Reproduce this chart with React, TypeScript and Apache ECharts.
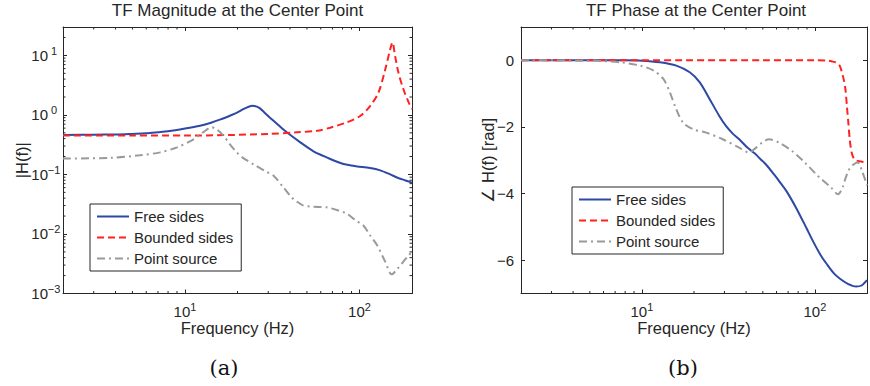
import React, { useEffect, useRef } from 'react';
import * as echarts from 'echarts';

// Axis ranges
const freqMin = 2;
const freqMax = 200;
const magMin = 1e-3;
const magMax = 30;
const phaseMin = -7;
const phaseMax = 1;

const seriesNames = ['Free sides', 'Bounded sides', 'Point source'];

// |H(f)| — free sides
const freeMagFreq = [2, 3, 4, 5, 6, 7, 8, 10, 12.2, 14.1, 16, 18.1, 20, 21.6, 23, 24.4, 25.8, 26.9, 28.5, 30.7, 34, 38.3, 45, 54.5, 62, 68, 75, 81, 90, 97, 115, 131.5, 150, 164, 182, 200];
const freeMagVal = [0.46, 0.465, 0.47, 0.48, 0.49, 0.51, 0.53, 0.59, 0.66, 0.74, 0.84, 0.97, 1.1, 1.25, 1.36, 1.42, 1.38, 1.29, 1.1, 0.9, 0.69, 0.51, 0.36, 0.245, 0.205, 0.182, 0.162, 0.15, 0.141, 0.136, 0.128, 0.117, 0.1, 0.089, 0.08, 0.073];

// |H(f)| — bounded sides
const boundedMagFreq = [2, 5, 10, 18, 30, 43.7, 56.9, 67.9, 84.6, 101, 115, 128.5, 140.5, 150, 154.5, 160, 167, 178.6, 191.4, 200];
const boundedMagVal = [0.45, 0.45, 0.45, 0.46, 0.48, 0.51, 0.54, 0.61, 0.75, 0.96, 1.41, 2.38, 5.8, 12.7, 16.5, 9.8, 5.2, 2.7, 1.62, 1.25];

// |H(f)| — point source
const pointMagFreq = [2, 3.7, 5.5, 7.2, 9, 11.2, 12.7, 14.2, 15.2, 16.6, 18.1, 19.8, 21.5, 24.7, 29.4, 32.1, 36.6, 40.9, 43.8, 47.7, 52, 58, 65, 75, 84.6, 95, 105, 115, 126, 140, 153, 165, 175, 188, 200];
const pointMagVal = [0.185, 0.19, 0.21, 0.235, 0.285, 0.39, 0.51, 0.62, 0.57, 0.45, 0.32, 0.235, 0.19, 0.148, 0.11, 0.096, 0.061, 0.041, 0.035, 0.03, 0.029, 0.0285, 0.028, 0.025, 0.022, 0.017, 0.014, 0.0095, 0.0065, 0.0035, 0.0021, 0.0026, 0.0032, 0.0041, 0.005];

// Phase [rad] — free sides
const freePhFreq = [2, 5, 8, 10, 12.7, 15.8, 18.9, 21.6, 24.6, 28, 30.6, 33.5, 36.5, 40.7, 45, 48.5, 52, 57.9, 63, 68.9, 78.6, 89.6, 97.9, 108, 116.5, 128, 139, 155, 173, 186, 200];
const freePhVal = [0, 0, 0, -0.01, -0.06, -0.16, -0.36, -0.66, -1.16, -1.67, -1.97, -2.2, -2.37, -2.62, -2.8, -2.97, -3.12, -3.42, -3.67, -3.95, -4.47, -5.05, -5.45, -5.85, -6.1, -6.38, -6.55, -6.71, -6.79, -6.76, -6.6];

// Phase [rad] — bounded sides
const boundedPhFreq = [2, 50, 100, 120, 127, 134, 139, 145, 150, 153, 156, 159, 163, 169, 180, 200];
const boundedPhVal = [0, 0, 0, -0.01, -0.04, -0.08, -0.16, -0.46, -0.86, -1.37, -1.87, -2.37, -2.77, -2.97, -3.03, -3.06];

// Phase [rad] — point source
const pointPhFreq = [2, 5, 7.5, 9.8, 11.7, 13.3, 14.5, 15.8, 17.3, 19.8, 23.5, 29.3, 36.5, 41.6, 45, 49.5, 54.3, 62, 73.6, 87.5, 104, 124, 136, 145, 150, 158, 168, 177, 188, 200];
const pointPhVal = [0, -0.01, -0.06, -0.16, -0.31, -0.56, -0.96, -1.47, -1.87, -2.07, -2.17, -2.37, -2.62, -2.77, -2.65, -2.47, -2.37, -2.47, -2.72, -3.07, -3.47, -3.82, -4.02, -3.8, -3.55, -3.27, -3.12, -3.07, -3.35, -3.75];

const FONT = "'Liberation Sans', Arial, Helvetica, sans-serif";
const SERIF = "'DejaVu Serif', 'Liberation Serif', serif";
const INK = '#262626';
const BLUE = '#2D48A5';
const RED = '#FF2222';
const GRAY = '#9A9A9A';

const pairs = (xs: number[], ys: number[]) => xs.map((x, i) => [x, ys[i]]);

// Positions 2..9 x 10^k strictly inside (min, max)
function logMinorTicks(min: number, max: number): number[] {
  const out: number[] = [];
  for (let e = Math.floor(Math.log10(min)); e <= Math.ceil(Math.log10(max)); e++) {
    for (let m = 2; m <= 9; m++) {
      const v = m * Math.pow(10, e);
      if (v > min * 1.0001 && v < max * 0.9999) out.push(v);
    }
  }
  return out;
}

const powLabel = (v: number) => {
  const e = Math.round(Math.log10(v));
  if (Math.abs(v / Math.pow(10, e) - 1) > 1e-6) return '';
  const s = e < 0 ? '\u2212' + -e : String(e);
  return `{b|10}{s|${s}}`;
};

const baseRich = { fontSize: 15, fontFamily: FONT, color: INK, lineHeight: 20 };
const supRich = { fontSize: 11, fontFamily: FONT, color: INK, lineHeight: 11, verticalAlign: 'top' };
// x labels: "10^k" centred under the tick
const powRichX = { b: baseRich, s: supRich };
// y labels: exponent box has a fixed width so every "10" lines up
const powRichY = { b: baseRich, s: { ...supRich, width: 12, align: 'left' } };

const MAJOR = 4;
const MINOR = 2.5;

function minorTicks(
  xAxisIndex: number,
  yAxisIndex: number,
  values: number[],
  dir: 'x' | 'y',
  span: [number, number],
) {
  return {
    type: 'custom',
    xAxisIndex,
    yAxisIndex,
    silent: true,
    clip: false,
    z: 3,
    data: values.map((v) => (dir === 'x' ? [v, span[0]] : [span[0], v])),
    renderItem: (_params: any, api: any) => {
      const style = { stroke: INK, lineWidth: 1 };
      if (dir === 'x') {
        const v = api.value(0);
        const a = api.coord([v, span[0]]);
        const b = api.coord([v, span[1]]);
        return {
          type: 'group',
          children: [
            { type: 'line', shape: { x1: a[0], y1: a[1], x2: a[0], y2: a[1] - MINOR }, style },
            { type: 'line', shape: { x1: b[0], y1: b[1], x2: b[0], y2: b[1] + MINOR }, style },
          ],
        };
      }
      const v = api.value(1);
      const a = api.coord([span[0], v]);
      const b = api.coord([span[1], v]);
      return {
        type: 'group',
        children: [
          { type: 'line', shape: { x1: a[0], y1: a[1], x2: a[0] + MINOR, y2: a[1] }, style },
          { type: 'line', shape: { x1: b[0], y1: b[1], x2: b[0] - MINOR, y2: b[1] }, style },
        ],
      };
    },
  };
}

const axisLine = { show: true, onZero: false, lineStyle: { color: INK, width: 1 } };
const tickIn = { show: true, inside: true, length: MAJOR, lineStyle: { color: INK, width: 1 } };
const nameStyle = { fontSize: 16.5, fontFamily: FONT, color: INK };

function lineSeries(name: string, data: number[][], color: string, dash: any, xi: number, yi: number) {
  return {
    name,
    type: 'line',
    xAxisIndex: xi,
    yAxisIndex: yi,
    data,
    symbol: 'none',
    smooth: 0.3,
    z: 2,
    lineStyle: { color, width: 2, type: dash },
    itemStyle: { color },
  };
}

const legendBase = {
  orient: 'vertical',
  data: seriesNames,
  itemWidth: 32,
  itemHeight: 14,
  itemGap: 6,
  padding: [5, 8, 5, 6],
  backgroundColor: '#ffffff',
  borderColor: INK,
  borderWidth: 1,
  borderRadius: 0,
  selectedMode: false,
  itemStyle: { opacity: 0 },
  textStyle: { fontSize: 15, fontFamily: FONT, color: INK },
  z: 10,
};

export default function App() {
  const ref = useRef<HTMLDivElement>(null);

  useEffect(() => {
    if (!ref.current) return;
    const chart = echarts.init(ref.current, undefined, { renderer: 'svg' });

    const leftGrid = { left: 63, top: 27, width: 349, height: 266.5 };
    const rightGrid = { left: 521, top: 27, width: 350, height: 266.5 };

    const logX = (gridIndex: number, top: boolean) => ({
      type: 'log',
      logBase: 10,
      gridIndex,
      min: freqMin,
      max: freqMax,
      position: top ? 'top' : 'bottom',
      axisLine,
      axisTick: tickIn,
      splitLine: { show: false },
      axisLabel: top
        ? { show: false }
        : { show: true, margin: 8, formatter: powLabel, rich: powRichX },
      ...(top
        ? {}
        : {
            name: 'Frequency (Hz)',
            nameLocation: 'middle',
            nameGap: 26,
            nameMoveOverlap: false,
            nameTextStyle: nameStyle,
          }),
    });

    const option: any = {
      animation: false,
      backgroundColor: '#ffffff',
      textStyle: { fontFamily: FONT },
      grid: [leftGrid, rightGrid],
      xAxis: [logX(0, false), logX(0, true), logX(1, false), logX(1, true)],
      yAxis: [
        {
          type: 'log',
          logBase: 10,
          gridIndex: 0,
          min: magMin,
          max: magMax,
          position: 'left',
          axisLine,
          axisTick: tickIn,
          splitLine: { show: false },
          axisLabel: { show: true, margin: 3, formatter: powLabel, rich: powRichY },
          name: '|H(f)|',
          nameLocation: 'middle',
          nameGap: 33,
          nameMoveOverlap: false,
          nameTextStyle: nameStyle,
        },
        {
          type: 'log',
          logBase: 10,
          gridIndex: 0,
          min: magMin,
          max: magMax,
          position: 'right',
          axisLine,
          axisTick: tickIn,
          splitLine: { show: false },
          axisLabel: { show: false },
        },
        {
          type: 'value',
          gridIndex: 1,
          min: phaseMin,
          max: phaseMax,
          position: 'left',
          axisLine,
          axisTick: tickIn,
          splitLine: { show: false },
          axisLabel: {
            show: true,
            margin: 7,
            fontSize: 15,
            fontFamily: FONT,
            color: INK,
            formatter: (v: number) =>
              Math.abs(v % 2) > 1e-9 ? '' : v < 0 ? '\u2212' + -v : String(v),
          },
          name: '\u2220 H(f) [rad]',
          nameLocation: 'middle',
          nameGap: 25,
          nameMoveOverlap: false,
          nameTextStyle: nameStyle,
        },
        {
          type: 'value',
          gridIndex: 1,
          min: phaseMin,
          max: phaseMax,
          position: 'right',
          axisLine,
          axisTick: tickIn,
          splitLine: { show: false },
          axisLabel: { show: false },
        },
      ],
      legend: [
        { ...legendBase, left: 90, top: 204 },
        { ...legendBase, left: 572, top: 187 },
      ],
      graphic: [
        {
          type: 'text',
          x: 237.5,
          y: 10,
          style: { text: 'TF Magnitude at the Center Point', fontSize: 17, fontFamily: FONT, fill: INK, align: 'center', verticalAlign: 'middle' },
        },
        {
          type: 'text',
          x: 696,
          y: 10,
          style: { text: 'TF Phase at the Center Point', fontSize: 17, fontFamily: FONT, fill: INK, align: 'center', verticalAlign: 'middle' },
        },
        {
          type: 'text',
          x: 224,
          y: 368,
          style: { text: '(a)', fontSize: 21, fontFamily: SERIF, fill: '#111', align: 'center', verticalAlign: 'middle' },
        },
        {
          type: 'text',
          x: 683,
          y: 368,
          style: { text: '(b)', fontSize: 21, fontFamily: SERIF, fill: '#111', align: 'center', verticalAlign: 'middle' },
        },
      ],
      series: [
        lineSeries(seriesNames[0], pairs(freeMagFreq, freeMagVal), BLUE, 'solid', 0, 0),
        lineSeries(seriesNames[1], pairs(boundedMagFreq, boundedMagVal), RED, [7, 4], 0, 0),
        lineSeries(seriesNames[2], pairs(pointMagFreq, pointMagVal), GRAY, [8, 4, 2, 4], 0, 0),
        lineSeries(seriesNames[0], pairs(freePhFreq, freePhVal), BLUE, 'solid', 2, 2),
        lineSeries(seriesNames[1], pairs(boundedPhFreq, boundedPhVal), RED, [7, 4], 2, 2),
        lineSeries(seriesNames[2], pairs(pointPhFreq, pointPhVal), GRAY, [8, 4, 2, 4], 2, 2),
        minorTicks(0, 0, logMinorTicks(freqMin, freqMax), 'x', [magMin, magMax]),
        minorTicks(0, 0, logMinorTicks(magMin, magMax), 'y', [freqMin, freqMax]),
        minorTicks(2, 2, logMinorTicks(freqMin, freqMax), 'x', [phaseMin, phaseMax]),
      ],
    };

    chart.setOption(option);
    return () => chart.dispose();
  }, []);

  return (
    <div
      ref={ref}
      style={{ position: 'fixed', left: 0, top: 0, width: 870, height: 386, background: '#fff' }}
    />
  );
}
